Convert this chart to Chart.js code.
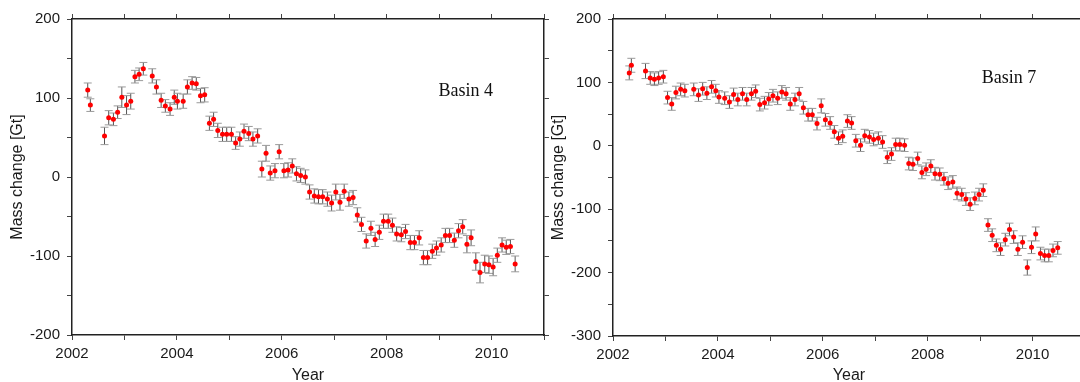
<!DOCTYPE html>
<html>
<head>
<meta charset="utf-8">
<script src="https://cdn.jsdelivr.net/npm/chart.js@4"></script>
<style>
  html, body { margin: 0; padding: 0; background: #fff; overflow: hidden; width: 1080px; height: 382px; }
  canvas { position: absolute; top: 0; }
  #basin4 { left: 0; }
  #basin7 { left: 545px; }
</style>
</head>
<body>
<canvas id="basin4" width="560" height="382"></canvas>
<canvas id="basin7" width="555" height="382"></canvas>
<script>
// Basin 4 (left panel)
const basin4Years = [
  2002.30, 2002.35, 2002.62, 2002.70, 2002.79, 2002.87, 2002.95, 2003.04, 2003.12, 2003.20,
  2003.28, 2003.36, 2003.53, 2003.61, 2003.70, 2003.78, 2003.87, 2003.95, 2004.01, 2004.12,
  2004.20, 2004.29, 2004.37, 2004.45, 2004.53, 2004.62, 2004.70, 2004.78, 2004.87, 2004.95,
  2005.04, 2005.12, 2005.20, 2005.28, 2005.37, 2005.45, 2005.54, 2005.62, 2005.70, 2005.78,
  2005.87, 2005.95, 2006.04, 2006.12, 2006.20, 2006.28, 2006.36, 2006.45, 2006.53, 2006.62,
  2006.70, 2006.78, 2006.87, 2006.95, 2007.03, 2007.11, 2007.19, 2007.28, 2007.36, 2007.44,
  2007.52, 2007.61, 2007.70, 2007.78, 2007.86, 2007.94, 2008.03, 2008.11, 2008.19, 2008.28,
  2008.36, 2008.45, 2008.53, 2008.62, 2008.70, 2008.78, 2008.87, 2008.95, 2009.04, 2009.12,
  2009.20, 2009.29, 2009.37, 2009.45, 2009.53, 2009.61, 2009.70, 2009.78, 2009.87, 2009.95,
  2010.03, 2010.11, 2010.20, 2010.28, 2010.36, 2010.45
];
const basin4Mass = [
  110, 91, 52, 75, 73, 82, 101, 91, 96, 127,
  130, 137, 128, 114, 97, 90, 86, 101, 96, 96,
  114, 119, 118, 103, 104, 68, 73, 59, 54, 54,
  54, 43, 48, 58, 55, 48, 52, 10, 30, 5,
  8, 32, 8, 9, 14, 4, 2, 0, -19, -24,
  -25, -25, -28, -33, -19, -32, -18, -28, -26, -48,
  -60, -81, -65, -79, -70, -56, -56, -61, -72, -73,
  -69, -83, -83, -77, -102, -102, -94, -90, -86, -74,
  -74, -80, -68, -63, -85, -77, -107, -121, -110, -111,
  -114, -99, -86, -89, -88, -110
];
const basin4Err = [
  9, 8, 11, 9, 8, 8, 13, 12, 10, 8,
  8, 8, 9, 9, 9, 8, 8, 9, 10, 9,
  9, 8, 8, 9, 9, 9, 9, 9, 9, 9,
  9, 8, 9, 9, 9, 9, 9, 10, 10, 9,
  9, 9, 9, 9, 9, 9, 9, 9, 9, 9,
  9, 9, 9, 10, 10, 10, 9, 9, 9, 9,
  9, 9, 9, 9, 9, 9, 9, 9, 9, 9,
  9, 9, 9, 9, 9, 9, 9, 9, 9, 9,
  9, 9, 9, 9, 11, 10, 11, 13, 11, 11,
  11, 9, 9, 9, 9, 10
];

// Basin 7 (right panel)
const basin7Years = [
  2002.31, 2002.35, 2002.62, 2002.71, 2002.79, 2002.87, 2002.96, 2003.04, 2003.12, 2003.20,
  2003.29, 2003.37, 2003.54, 2003.63, 2003.71, 2003.79, 2003.88, 2003.96, 2004.02, 2004.13,
  2004.22, 2004.30, 2004.38, 2004.47, 2004.55, 2004.64, 2004.72, 2004.80, 2004.89, 2004.97,
  2005.05, 2005.14, 2005.22, 2005.30, 2005.38, 2005.47, 2005.55, 2005.63, 2005.72, 2005.80,
  2005.89, 2005.97, 2006.05, 2006.14, 2006.22, 2006.30, 2006.38, 2006.47, 2006.55, 2006.63,
  2006.72, 2006.80, 2006.89, 2006.97, 2007.06, 2007.14, 2007.23, 2007.31, 2007.39, 2007.47,
  2007.56, 2007.64, 2007.72, 2007.81, 2007.89, 2007.97, 2008.06, 2008.14, 2008.23, 2008.31,
  2008.39, 2008.48, 2008.56, 2008.65, 2008.73, 2008.81, 2008.90, 2008.98, 2009.06, 2009.15,
  2009.23, 2009.31, 2009.39, 2009.48, 2009.56, 2009.64, 2009.72, 2009.81, 2009.90, 2009.98,
  2010.06, 2010.15, 2010.23, 2010.31, 2010.39, 2010.48
];
const basin7Mass = [
  115, 127, 118, 107, 105, 107, 109, 76, 66, 84,
  89, 87, 89, 80, 90, 83, 93, 87, 77, 75,
  69, 81, 73, 82, 73, 82, 86, 65, 68, 74,
  79, 75, 85, 82, 66, 73, 82, 60, 49, 49,
  35, 63, 41, 36, 22, 12, 15, 39, 36, 8,
  1, 16, 14, 10, 12, 6, -18, -13, 2, 2,
  1, -28, -29, -20, -42, -37, -32, -44, -45, -52,
  -59, -57, -75, -77, -84, -92, -83, -77, -70, -125,
  -141, -157, -163, -148, -132, -144, -163, -152, -192, -160,
  -139, -170, -173, -173, -165, -161
];
const basin7Err = [
  11, 11, 12, 10, 10, 10, 10, 10, 10, 10,
  10, 10, 10, 10, 10, 10, 10, 10, 10, 10,
  10, 10, 10, 10, 10, 10, 10, 10, 10, 10,
  10, 10, 10, 10, 10, 10, 10, 10, 10, 10,
  10, 11, 10, 10, 10, 10, 10, 10, 10, 10,
  10, 10, 10, 10, 10, 10, 10, 10, 10, 10,
  10, 10, 10, 10, 10, 10, 10, 10, 10, 10,
  10, 10, 10, 10, 10, 10, 10, 10, 10, 10,
  10, 10, 10, 10, 10, 10, 10, 10, 12, 10,
  11, 10, 10, 10, 10, 10
];

const yearTicks = { min: 2002, max: 2011, step: 1 };

const errorBars = {
  id: "errorBars",
  beforeDatasetsDraw(chart) {
    const ctx = chart.ctx;
    const yScale = chart.scales.y;
    chart.data.datasets.forEach((ds, di) => {
      const meta = chart.getDatasetMeta(di);
      ctx.save();
      meta.data.forEach((pt, i) => {
        const v = ds.data[i].y;
        const e = ds.errors[i];
        const top = yScale.getPixelForValue(v + e);
        const bot = yScale.getPixelForValue(v - e);
        ctx.strokeStyle = "#555";
        ctx.lineWidth = 1;
        ctx.beginPath();
        ctx.moveTo(pt.x, top);
        ctx.lineTo(pt.x, bot);
        ctx.stroke();
        ctx.strokeStyle = "#9a9a9a";
        ctx.beginPath();
        ctx.moveTo(pt.x - 4, top);
        ctx.lineTo(pt.x + 4, top);
        ctx.moveTo(pt.x - 4, bot);
        ctx.lineTo(pt.x + 4, bot);
        ctx.stroke();
      });
      ctx.restore();
    });
  },
};

const basinLabel = {
  id: "basinLabel",
  afterDraw(chart, args, opts) {
    const ctx = chart.ctx;
    ctx.save();
    ctx.font = '18px "Liberation Serif", "Times New Roman", serif';
    ctx.fillStyle = "#111";
    ctx.textAlign = "center";
    ctx.textBaseline = "middle";
    ctx.fillText(
      opts.text,
      chart.scales.x.getPixelForValue(opts.x),
      chart.scales.y.getPixelForValue(opts.y)
    );
    ctx.restore();
  },
};

function makeChart(canvasId, years, mass, errs, yMin, yMax, sizes, label) {
  const points = years.map((t, i) => ({ x: t, y: mass[i] }));
  const family = '"Liberation Sans", Arial, sans-serif';
  const tickFont = { family: family, size: 15 };
  const yTitleFont = { family: family, size: 16, lineHeight: 1 };
  const xTitleFont = { family: family, size: 16, lineHeight: 0.8 };
  const frame = { display: true, color: "#222", width: 1.5 };
  const grid = { drawOnChartArea: false, drawTicks: true, tickLength: 5, color: "#444", lineWidth: 1 };

  return new Chart(document.getElementById(canvasId), {
    type: "scatter",
    data: {
      datasets: [
        {
          data: points,
          errors: errs,
          backgroundColor: "#ff0000",
          borderWidth: 0,
          pointRadius: 2.5,
          showLine: false,
        },
      ],
    },
    options: {
      responsive: false,
      animation: false,
      devicePixelRatio: 1,
      layout: { padding: 0 },
      plugins: {
        legend: { display: false },
        tooltip: { enabled: false },
        basinLabel: label,
      },
      scales: {
        x: {
          type: "linear",
          position: "bottom",
          min: yearTicks.min,
          max: yearTicks.max,
          border: frame,
          grid: grid,
          ticks: {
            stepSize: yearTicks.step,
            autoSkip: false,
            maxRotation: 0,
            padding: 5,
            color: "#1a1a1a",
            font: tickFont,
            callback: (v) => (v % 2 === 0 ? String(v) : ""),
          },
          title: { display: true, text: "Year", color: "#1a1a1a", font: xTitleFont, padding: { top: 0, bottom: 0 } },
          afterFit: (s) => { s.height = sizes.bottom; },
        },
        x2: {
          type: "linear",
          position: "top",
          display: true,
          min: yearTicks.min,
          max: yearTicks.max,
          border: frame,
          grid: grid,
          ticks: { display: false, stepSize: yearTicks.step, autoSkip: false },
          afterFit: (s) => { s.height = 19; },
        },
        y: {
          type: "linear",
          position: "left",
          min: yMin,
          max: yMax,
          border: frame,
          grid: grid,
          ticks: {
            stepSize: 50,
            autoSkip: false,
            padding: 7,
            color: "#1a1a1a",
            font: tickFont,
            callback: (v) => (v % 100 === 0 ? String(v) : ""),
          },
          title: { display: true, text: "Mass change [Gt]", color: "#1a1a1a", font: yTitleFont, padding: { top: sizes.titlePad, bottom: 0 } },
          afterFit: (s) => { s.width = sizes.left; },
        },
        y2: {
          type: "linear",
          position: "right",
          display: true,
          min: yMin,
          max: yMax,
          border: frame,
          grid: grid,
          ticks: { display: false, stepSize: 50, autoSkip: false },
          afterFit: (s) => { s.width = sizes.right; },
        },
      },
    },
    plugins: [errorBars, basinLabel],
  });
}

makeChart("basin4", basin4Years, basin4Mass, basin4Err, -200, 200,
  { left: 72, right: 16, bottom: 47, titlePad: 10 },
  { text: "Basin 4", x: 2009.51, y: 108 });

makeChart("basin7", basin7Years, basin7Mass, basin7Err, -300, 200,
  { left: 68, right: 15, bottom: 46, titlePad: 6 },
  { text: "Basin 7", x: 2009.55, y: 107 });
</script>
</body>
</html>
